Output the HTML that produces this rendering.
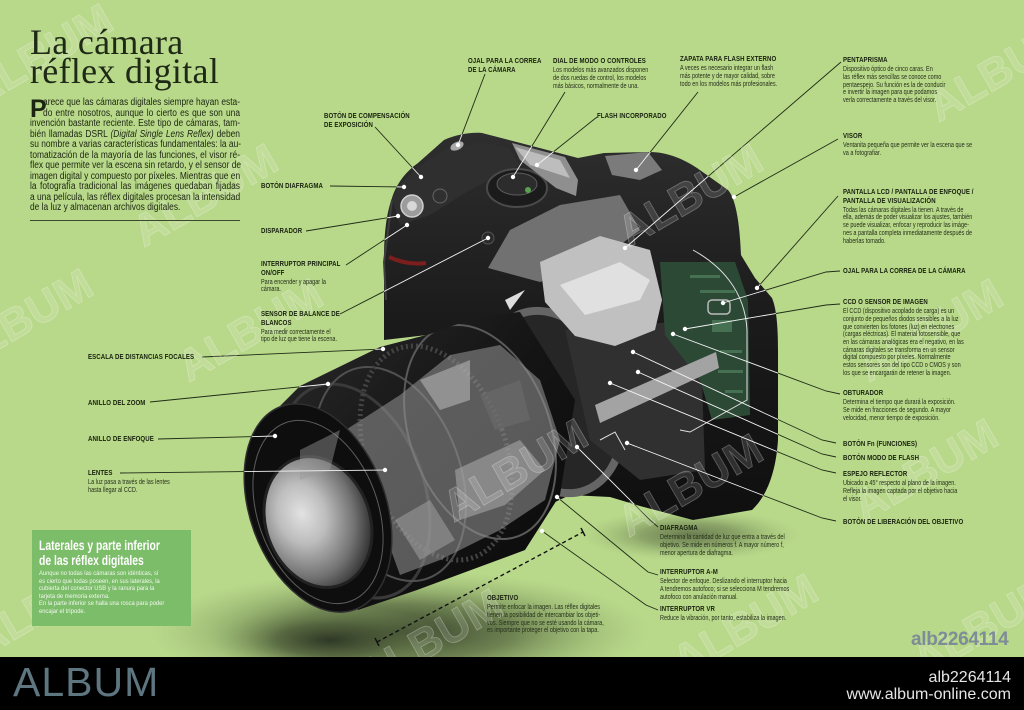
<!DOCTYPE html>
<html><head><meta charset="utf-8">
<style>
*{margin:0;padding:0;box-sizing:border-box}
html,body{width:1024px;height:710px;overflow:hidden;background:#b8d88a}
#w{position:relative;width:1024px;height:710px;font-family:"Liberation Sans",sans-serif;overflow:hidden}
svg{position:absolute;left:0;top:0}
.lb{position:absolute;white-space:nowrap;transform:scaleX(.8);transform-origin:0 0;color:#18220e}
.lb b{display:block;font-size:7.6px;line-height:8.6px;font-weight:bold;letter-spacing:.1px}
.lb p{margin-top:1.5px;font-size:6.9px;line-height:7.7px;color:#26311b}
#title{position:absolute;left:30px;top:28px;font-family:"Liberation Serif",serif;font-size:36px;line-height:29px;color:#1e2916;white-space:nowrap;letter-spacing:.3px}
#intro{position:absolute;left:30px;top:98px;width:250px;transform:scaleX(.84);transform-origin:0 0;font-size:10px;color:#1c2512}
#intro div{height:10.5px;line-height:10.5px;white-space:nowrap;text-align:justify;text-align-last:justify}
#intro div.f{padding-left:15.5px}
#intro div.e{text-align-last:left}
#cap{position:absolute;left:30px;top:97px;font-size:25px;font-weight:bold;line-height:25px;color:#1c2512}
#rule{position:absolute;left:30px;top:220px;width:210px;height:1px;background:#3b4a2d}
#box{position:absolute;left:32px;top:530px;width:159px;height:96px;background:#7cbd6a}
#box .t{position:absolute;left:7px;top:8px;transform:scaleX(.74);transform-origin:0 0;font-size:14px;font-weight:bold;line-height:15px;color:#fff;white-space:nowrap}
#box .s{position:absolute;left:7px;top:40px;transform:scaleX(.85);transform-origin:0 0;font-size:6.8px;line-height:7.5px;color:#f2f8ee;white-space:nowrap}
#bar{position:absolute;left:0;top:657px;width:1024px;height:53px;background:#000}
#logo{position:absolute;left:13px;top:662px;font-size:41px;line-height:41px;color:#5e7680;letter-spacing:1px}
#id{position:absolute;right:13px;top:669px;font-size:16px;line-height:17px;color:#e6e6e6;text-align:right}
#wm{position:absolute;left:911px;top:629px;font-size:19px;font-weight:bold;color:#7d8c97;letter-spacing:-.3px}
</style></head><body><div id="w">
<svg width="1024" height="710" viewBox="0 0 1024 710" xmlns="http://www.w3.org/2000/svg">
<defs>
 <radialGradient id="sh" cx="0.5" cy="0.5" r="0.5">
  <stop offset="0" stop-color="#2c3423" stop-opacity=".95"/>
  <stop offset=".45" stop-color="#4d5c39" stop-opacity=".7"/>
  <stop offset="1" stop-color="#8fae68" stop-opacity="0"/>
 </radialGradient>
 <linearGradient id="bd" x1="0" y1="0" x2="0" y2="1">
  <stop offset="0" stop-color="#2e2e2e"/>
  <stop offset=".5" stop-color="#1a1a1a"/>
  <stop offset="1" stop-color="#0f0f0f"/>
 </linearGradient>
 <linearGradient id="ln" x1="0" y1="0" x2="1" y2="1">
  <stop offset="0" stop-color="#2a2a2a"/>
  <stop offset=".5" stop-color="#141414"/>
  <stop offset="1" stop-color="#0a0a0a"/>
 </linearGradient>
 <radialGradient id="gl" cx="0.38" cy="0.4" r="0.65">
  <stop offset="0" stop-color="#e2e2e2"/>
  <stop offset=".35" stop-color="#bdbdbd"/>
  <stop offset=".75" stop-color="#727272"/>
  <stop offset="1" stop-color="#333"/>
 </radialGradient>
 <clipPath id="lensclip">
  <path d="M278,408 L300,386 L380,347 L430,334 L480,316 L520,312 L575,400 L560,495 L525,550 L490,563 L417,590 L358,610 Z"/>
 </clipPath>
 <clipPath id="cam">
  <path d="M384,340 L384,262 C384,235 386,215 392,198 C396,185 405,172 418,163 L444,140 C455,135 470,132 482,133 L509,140 L578,158 L604,153 L650,152 C668,152 685,160 697,168 L728,190 C737,200 740,230 741,255 L755,278 L772,298 C777,310 778,330 778,350 L778,440 C776,470 768,495 752,510 L693,520 L640,506 L610,497 L570,495 L553,503 L520,420 L470,330 Z"/>
  <path d="M278,408 L300,386 L380,347 L430,334 L480,316 L520,312 L575,400 L560,495 L525,550 L490,563 L417,590 L358,610 Z"/>
  <ellipse cx="318" cy="508" rx="68" ry="108" transform="rotate(-20 318 508)"/>
 </clipPath>
 <g id="lines" fill="none" stroke-width=".9">
  <path d="M375,127 L421,177"/>
  <path d="M485,74 L458,145"/>
  <path d="M565,92 L513,177"/>
  <path d="M597,117 L537,165"/>
  <path d="M698,92 L636,170"/>
  <path d="M841,62 L625,248"/>
  <path d="M838,139 L734,197"/>
  <path d="M838,196 L757,288"/>
  <path d="M840,271 L826,272 L723,303"/>
  <path d="M840,304 L826,305 L685,329"/>
  <path d="M840,394 L826,391 L673,334"/>
  <path d="M836,443 L822,440 L633,352"/>
  <path d="M836,457 L822,454 L638,372"/>
  <path d="M836,473 L822,470 L610,383"/>
  <path d="M836,521 L822,518 L627,443"/>
  <path d="M658,527 L650,520 L577,447"/>
  <path d="M658,575 L648,572 L557,497"/>
  <path d="M658,610 L646,605 L542,531"/>
  <path d="M330,186 L404,187"/>
  <path d="M306,231 L398,216"/>
  <path d="M346,265 L407,225"/>
  <path d="M340,314 L488,238"/>
  <path d="M202,357 L383,349"/>
  <path d="M150,402 L328,384"/>
  <path d="M158,439 L275,436"/>
  <path d="M120,473 L385,470"/>
 </g>
</defs>

<ellipse cx="400" cy="632" rx="250" ry="62" fill="url(#sh)"/>
<ellipse cx="330" cy="640" rx="120" ry="35" fill="url(#sh)"/>
<ellipse cx="690" cy="535" rx="110" ry="26" fill="url(#sh)" opacity=".6"/>

<use href="#lines" stroke="#1f2c16"/>

<path d="M384,340 L384,262 C384,235 386,215 392,198 C396,185 405,172 418,163 L444,140 C455,135 470,132 482,133 L509,140 L578,158 L604,153 L650,152 C668,152 685,160 697,168 L728,190 C737,200 740,230 741,255 L755,278 L772,298 C777,310 778,330 778,350 L778,440 C776,470 768,495 752,510 L693,520 L640,506 L610,497 L570,495 L553,503 L520,420 L470,330 Z" fill="url(#bd)"/>
<path d="M392,198 C400,180 420,165 444,150 L480,142 L509,148 L520,165 L470,190 L430,215 L400,225 Z" fill="#2f2f2f"/>
<path d="M392,200 L384,262 L386,300" stroke="#3e3e3e" stroke-width="2" fill="none"/>
<path d="M389,257 C400,262 412,265 426,263" stroke="#7a1e1e" stroke-width="4" fill="none"/>
<ellipse cx="457" cy="146" rx="7" ry="4" fill="#a9a9a9" transform="rotate(-25 457 146)"/>
<ellipse cx="517" cy="188" rx="30" ry="19" fill="#1b1b1b" stroke="#4a4a4a" stroke-width="2"/>
<ellipse cx="517" cy="184" rx="20" ry="11" fill="#2c2c2c" stroke="#5c5c5c"/>
<circle cx="528" cy="190" r="3" fill="#5aa050"/>
<polygon points="512,143 565,157 578,180 576,196 556,188 520,160" fill="#8f8f8f"/>
<polygon points="515,147 560,160 570,178 530,165" fill="#bdbdbd"/>
<polygon points="605,156 648,152 662,170 640,180 612,175" fill="#7b7b7b"/>
<circle cx="412" cy="206" r="11" fill="#9c9c9c" stroke="#cfcfcf" stroke-width="1.5"/>
<circle cx="412" cy="206" r="5" fill="#d8d8d8"/>
<circle cx="440" cy="196" r="7" fill="#303030" stroke="#666"/>
<circle cx="488" cy="238" r="6" fill="#2a2a2a" stroke="#555"/>
<ellipse cx="553" cy="402" rx="66" ry="94" transform="rotate(-20 553 402)" fill="#262626" stroke="#656565" stroke-width="8"/>
<polygon points="565,330 700,320 705,470 640,480 590,440" fill="#303030"/>
<polygon points="660,262 735,262 748,300 750,415 712,420 700,380 665,335" fill="#2c4936"/>
<g fill="#4d7a5a" opacity=".8">
 <rect x="690" y="275" width="30" height="3"/><rect x="700" y="290" width="35" height="3"/>
 <rect x="712" y="320" width="20" height="12"/><rect x="720" y="350" width="22" height="3"/>
 <rect x="718" y="370" width="25" height="3"/><rect x="725" y="390" width="18" height="3"/>
</g>
<rect x="708" y="300" width="22" height="14" rx="4" fill="none" stroke="#bbb" stroke-width="1.5"/>
<polygon points="488,268 510,230 560,205 620,195 640,230 600,260 540,282" fill="#7a7a7a" opacity=".9"/>
<polygon points="540,262 600,236 650,250 662,300 655,330 615,346 575,336 545,302" fill="#c0c0c0"/>
<polygon points="560,285 620,262 650,280 640,300 585,315" fill="#e0e0e0"/>
<path d="M505,300 L525,290 L510,310 Z" fill="#ddd"/>
<polygon points="595,405 716,352 719,368 600,423" fill="#a3a3a3"/>
<path d="M693,250 C720,265 745,290 747,330 L747,400 L690,432 L680,430" fill="none" stroke="#e0e0e0" stroke-width="1"/>
<path d="M600,440 L615,432 L625,450" fill="none" stroke="#ddd" stroke-width="1"/>

<path d="M278,408 L300,386 L380,347 L430,334 L480,316 L520,312 L575,400 L560,495 L525,550 L490,563 L417,590 L358,610 Z" fill="url(#ln)"/>
<g clip-path="url(#lensclip)" fill="none">
 <ellipse cx="354" cy="491" rx="70" ry="111" transform="rotate(-20 354 491)" stroke="#3a3a3a" stroke-width="3"/>
 <ellipse cx="390" cy="474" rx="70" ry="111" transform="rotate(-20 390 474)" stroke="#505050" stroke-width="2"/>
 <ellipse cx="436" cy="453" rx="70" ry="111" transform="rotate(-20 436 453)" stroke="#444" stroke-width="5" stroke-dasharray="2 3"/>
 <ellipse cx="480" cy="432" rx="70" ry="111" transform="rotate(-20 480 432)" stroke="#5a5a5a" stroke-width="2"/>
 <polygon points="330,440 400,395 450,355 500,345 540,380 560,440 545,500 500,530 440,560 400,575 380,520 360,480" fill="#8c8c8c" opacity=".6"/>
 <polygon points="420,380 470,360 470,400 440,410" fill="#b4b4b4" opacity=".6"/>
 <polygon points="455,470 520,440 545,470 505,505 460,520" fill="#a6a6a6" opacity=".6"/>
 <polygon points="395,520 430,500 455,540 420,560" fill="#9a9a9a" opacity=".6"/>
 <polygon points="480,395 520,380 530,420 495,430" fill="#6a6a6a" opacity=".7"/>
</g>
<ellipse cx="318" cy="508" rx="68" ry="108" transform="rotate(-20 318 508)" fill="#0e0e0e" stroke="#303030" stroke-width="1.5"/>
<ellipse cx="318" cy="512" rx="60" ry="95" transform="rotate(-20 318 512)" fill="none" stroke="#5d5d5d" stroke-width="1"/>
<ellipse cx="318" cy="522" rx="52" ry="67" transform="rotate(-20 318 522)" fill="url(#gl)"/>
<ellipse cx="318" cy="522" rx="52" ry="67" transform="rotate(-20 318 522)" fill="none" stroke="#222" stroke-width="3"/>
<polygon points="300,450 340,430 330,470 300,480" fill="#9a9a9a" opacity=".45"/>

<use href="#lines" stroke="#f4f4f4" clip-path="url(#cam)"/>
<g fill="#fff">
 <circle cx="421" cy="177" r="2.2"/><circle cx="458" cy="145" r="2.2"/><circle cx="513" cy="177" r="2.2"/>
 <circle cx="537" cy="165" r="2.2"/><circle cx="636" cy="170" r="2.2"/><circle cx="625" cy="248" r="2.2"/>
 <circle cx="734" cy="197" r="2.2"/><circle cx="757" cy="288" r="2.2"/><circle cx="723" cy="303" r="2.2"/>
 <circle cx="685" cy="329" r="2.2"/><circle cx="673" cy="334" r="2.2"/><circle cx="633" cy="352" r="2.2"/>
 <circle cx="638" cy="372" r="2.2"/><circle cx="610" cy="383" r="2.2"/><circle cx="627" cy="443" r="2.2"/>
 <circle cx="577" cy="447" r="2.2"/><circle cx="557" cy="497" r="2.2"/><circle cx="542" cy="531" r="2.2"/>
 <circle cx="404" cy="187" r="2.2"/><circle cx="398" cy="216" r="2.2"/><circle cx="407" cy="225" r="2.2"/>
 <circle cx="488" cy="238" r="2.2"/><circle cx="383" cy="349" r="2.2"/><circle cx="328" cy="384" r="2.2"/>
 <circle cx="275" cy="436" r="2.2"/><circle cx="385" cy="470" r="2.2"/>
</g>

<path d="M377,642 L583,532" stroke="#111" stroke-width="1.4" stroke-dasharray="4 3"/>
<path d="M375,638 L379,646 M581,528 L585,536" stroke="#111" stroke-width="1.4"/>

<g font-family="Liberation Sans, sans-serif" font-size="44" font-weight="bold" fill="#ffffff" fill-opacity=".13" stroke="#ffffff" stroke-opacity=".28" stroke-width=".8" text-anchor="middle">
 <text x="40" y="70" transform="rotate(-30 40 55)">ALBUM</text>
 <text x="205" y="210" transform="rotate(-30 205 195)">ALBUM</text>
 <text x="250" y="345" transform="rotate(-30 250 330)">ALBUM</text>
 <text x="20" y="335" transform="rotate(-30 20 320)">ALBUM</text>
 <text x="515" y="485" transform="rotate(-30 515 470)">ALBUM</text>
 <text x="690" y="500" transform="rotate(-30 690 485)">ALBUM</text>
 <text x="930" y="345" transform="rotate(-30 930 330)">ALBUM</text>
 <text x="925" y="485" transform="rotate(-30 925 470)">ALBUM</text>
 <text x="745" y="640" transform="rotate(-30 745 625)">ALBUM</text>
 <text x="985" y="640" transform="rotate(-30 985 625)">ALBUM</text>
 <text x="430" y="655" transform="rotate(-30 430 640)">ALBUM</text>
 <text x="1000" y="85" transform="rotate(-30 1000 70)">ALBUM</text>
 <text x="690" y="210" transform="rotate(-30 690 195)">ALBUM</text>
 <text x="45" y="620" transform="rotate(-30 45 605)">ALBUM</text>
</g>
</svg>

<div id="title">La cámara<br>réflex digital</div>
<div id="cap">P</div>
<div id="intro">
<div class="f">arece que las cámaras digitales siempre hayan esta-</div>
<div class="f">do entre nosotros, aunque lo cierto es que son una</div>
<div>invención bastante reciente. Este tipo de cámaras, tam-</div>
<div>bién llamadas DSRL <i>(Digital Single Lens Reflex)</i> deben</div>
<div>su nombre a varias características fundamentales: la au-</div>
<div>tomatización de la mayoría de las funciones, el visor ré-</div>
<div>flex que permite ver la escena sin retardo, y el sensor de</div>
<div>imagen digital y compuesto por píxeles. Mientras que en</div>
<div>la fotografía tradicional las imágenes quedaban fijadas</div>
<div>a una película, las réflex digitales procesan la intensidad</div>
<div class="e">de la luz y almacenan archivos digitales.</div>
</div>
<div id="rule"></div>

<div class="lb" style="left:468px;top:57px"><b>OJAL PARA LA CORREA<br>DE LA CÁMARA</b></div>
<div class="lb" style="left:553px;top:57px"><b>DIAL DE MODO O CONTROLES</b><p>Los modelos más avanzados disponen<br>de dos ruedas de control, los modelos<br>más básicos, normalmente de una.</p></div>
<div class="lb" style="left:597px;top:112px"><b>FLASH INCORPORADO</b></div>
<div class="lb" style="left:324px;top:112px"><b>BOTÓN DE COMPENSACIÓN<br>DE EXPOSICIÓN</b></div>
<div class="lb" style="left:680px;top:55px"><b>ZAPATA PARA FLASH EXTERNO</b><p>A veces es necesario integrar un flash<br>más potente y de mayor calidad, sobre<br>todo en los modelos más profesionales.</p></div>
<div class="lb" style="left:843px;top:56px"><b>PENTAPRISMA</b><p>Dispositivo óptico de cinco caras. En<br>las réflex más sencillas se conoce como<br>pentaespejo. Su función es la de conducir<br>e invertir la imagen para que podamos<br>verla correctamente a través del visor.</p></div>
<div class="lb" style="left:843px;top:132px"><b>VISOR</b><p>Ventanita pequeña que permite ver la escena que se<br>va a fotografiar.</p></div>
<div class="lb" style="left:843px;top:188px"><b>PANTALLA LCD / PANTALLA DE ENFOQUE /<br>PANTALLA DE VISUALIZACIÓN</b><p>Todas las cámaras digitales la tienen. A través de<br>ella, además de poder visualizar los ajustes, también<br>se puede visualizar, enfocar y reproducir las imáge-<br>nes a pantalla completa inmediatamente después de<br>haberlas tomado.</p></div>
<div class="lb" style="left:843px;top:267px"><b>OJAL PARA LA CORREA DE LA CÁMARA</b></div>
<div class="lb" style="left:843px;top:298px"><b>CCD O SENSOR DE IMAGEN</b><p>El CCD (dispositivo acoplado de carga) es un<br>conjunto de pequeños diodos sensibles a la luz<br>que convierten los fotones (luz) en electrones<br>(cargas eléctricas). El material fotosensible, que<br>en las cámaras analógicas era el negativo, en las<br>cámaras digitales se transforma en un sensor<br>digital compuesto por píxeles. Normalmente<br>estos sensores son del tipo CCD o CMOS y son<br>los que se encargarán de retener la imagen.</p></div>
<div class="lb" style="left:843px;top:389px"><b>OBTURADOR</b><p>Determina el tiempo que durará la exposición.<br>Se mide en fracciones de segundo. A mayor<br>velocidad, menor tiempo de exposición.</p></div>
<div class="lb" style="left:843px;top:440px"><b>BOTÓN Fn (FUNCIONES)</b></div>
<div class="lb" style="left:843px;top:454px"><b>BOTÓN MODO DE FLASH</b></div>
<div class="lb" style="left:843px;top:470px"><b>ESPEJO REFLECTOR</b><p>Ubicado a 45° respecto al plano de la imagen.<br>Refleja la imagen captada por el objetivo hacia<br>el visor.</p></div>
<div class="lb" style="left:843px;top:518px"><b>BOTÓN DE LIBERACIÓN DEL OBJETIVO</b></div>
<div class="lb" style="left:660px;top:524px"><b>DIAFRAGMA</b><p>Determina la cantidad de luz que entra a través del<br>objetivo. Se mide en números f. A mayor número f,<br>menor apertura de diafragma.</p></div>
<div class="lb" style="left:660px;top:568px"><b>INTERRUPTOR A-M</b><p>Selector de enfoque. Deslizando el interruptor hacia<br>A tendremos autofoco; si se selecciona M tendremos<br>autofoco con anulación manual.</p></div>
<div class="lb" style="left:660px;top:605px"><b>INTERRUPTOR VR</b><p>Reduce la vibración, por tanto, estabiliza la imagen.</p></div>
<div class="lb" style="left:487px;top:594px"><b>OBJETIVO</b><p>Permite enfocar la imagen. Las réflex digitales<br>tienen la posibilidad de intercambiar los objeti-<br>vos. Siempre que no se esté usando la cámara,<br>es importante proteger el objetivo con la tapa.</p></div>
<div class="lb" style="left:261px;top:182px"><b>BOTÓN DIAFRAGMA</b></div>
<div class="lb" style="left:261px;top:227px"><b>DISPARADOR</b></div>
<div class="lb" style="left:261px;top:260px"><b>INTERRUPTOR PRINCIPAL<br>ON/OFF</b><p>Para encender y apagar la<br>cámara.</p></div>
<div class="lb" style="left:261px;top:310px"><b>SENSOR DE BALANCE DE<br>BLANCOS</b><p>Para medir correctamente el<br>tipo de luz que tiene la escena.</p></div>
<div class="lb" style="left:88px;top:353px"><b>ESCALA DE DISTANCIAS FOCALES</b></div>
<div class="lb" style="left:88px;top:399px"><b>ANILLO DEL ZOOM</b></div>
<div class="lb" style="left:88px;top:435px"><b>ANILLO DE ENFOQUE</b></div>
<div class="lb" style="left:88px;top:469px"><b>LENTES</b><p>La luz pasa a través de las lentes<br>hasta llegar al CCD.</p></div>

<div id="box">
 <div class="t">Laterales y parte inferior<br>de las réflex digitales</div>
 <div class="s">Aunque no todas las cámaras son idénticas, sí<br>es cierto que todas poseen, en sus laterales, la<br>cubierta del conector USB y la ranura para la<br>tarjeta de memoria externa.<br>En la parte inferior se halla una rosca para poder<br>encajar el trípode.</div>
</div>

<div id="wm">alb2264114</div>
<div id="bar"></div>
<div id="logo">ALBUM</div>
<div id="id">alb2264114<br>www.album-online.com</div>
</div></body></html>
